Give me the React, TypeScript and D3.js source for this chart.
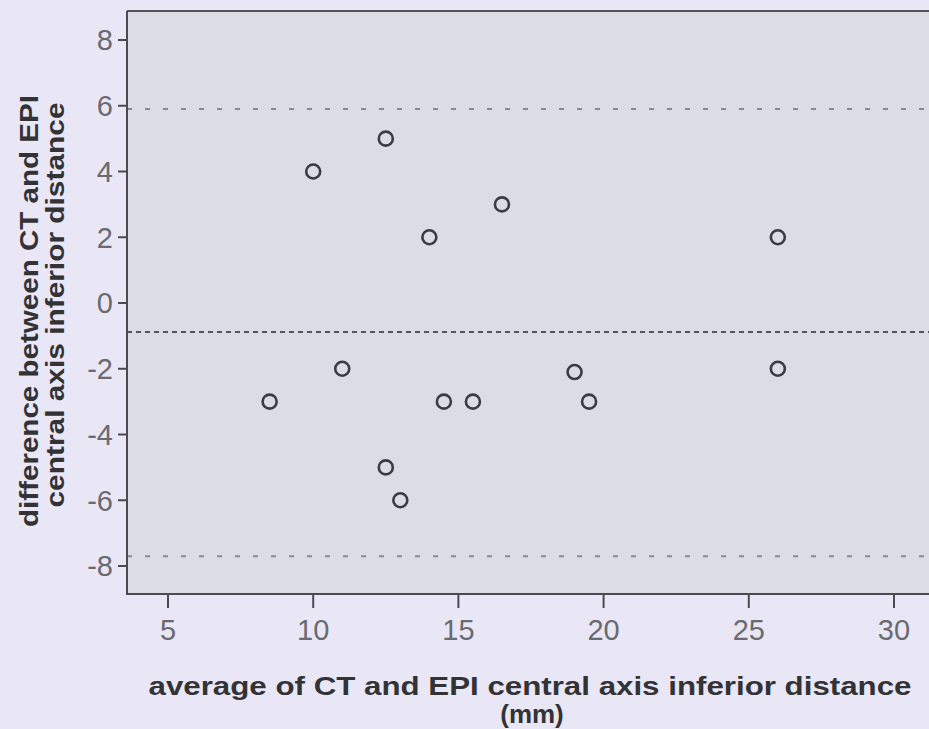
import React from "react";
import * as d3 from "d3";

const avgValues = [10, 12.5, 14, 16.5, 26, 26, 8.5, 11, 14.5, 15.5, 19, 19.5, 12.5, 13];
const diffValues = [4, 5, 2, 3, 2, -2, -3, -2, -3, -3, -2.1, -3, -5, -6];
const xTicks = [5, 10, 15, 20, 25, 30];
const yTicks = [8, 6, 4, 2, 0, -2, -4, -6, -8];
const meanDiff = -0.88;
const upperLimit = 5.9;
const lowerLimit = -7.7;
const xTitle = ["average of CT and EPI central axis inferior distance", "(mm)"];
const yTitle = ["difference between CT and EPI", "central axis inferior distance"];

export default function App() {
  const W = 929, H = 729;
  const left = 127, top = 11, bottom = 594, right = 940;
  const x = d3.scaleLinear().domain([5, 30]).range([168, 894]);
  const y = d3.scaleLinear().domain([-8, 8]).range([566, 40]);
  const points = avgValues.map((a, i) => ({ a, d: diffValues[i] }));
  const font = "'Liberation Sans', Arial, Helvetica, sans-serif";
  return (
    <svg width={W} height={H} style={{ position: "absolute", left: 0, top: 0 }} fontFamily={font}>
      <rect x={0} y={0} width={W} height={H} fill="#e9e7f5" />
      <rect x={left} y={top} width={right - left} height={bottom - top} fill="#dcdce5" />
      {/* reference lines */}
      <line x1={left} x2={right} y1={y(upperLimit)} y2={y(upperLimit)} stroke="#8a8890" strokeWidth={2} strokeDasharray="5 13" />
      <line x1={left} x2={right} y1={y(lowerLimit)} y2={y(lowerLimit)} stroke="#8a8890" strokeWidth={2} strokeDasharray="5 13" />
      <line x1={left} x2={right} y1={y(meanDiff)} y2={y(meanDiff)} stroke="#55545c" strokeWidth={2} strokeDasharray="5 4" />
      {/* frame */}
      <line x1={left} x2={right} y1={top} y2={top} stroke="#55545a" strokeWidth={2} />
      <line x1={left} x2={left} y1={top} y2={bottom} stroke="#4a4a50" strokeWidth={2} />
      <line x1={left - 1} x2={right} y1={bottom} y2={bottom} stroke="#4a4a50" strokeWidth={2} />
      {/* y axis */}
      {yTicks.map((t) => (
        <g key={"y" + t}>
          <line x1={left - 9} x2={left} y1={y(t)} y2={y(t)} stroke="#4a4a50" strokeWidth={2} />
          <text x={left - 14} y={y(t)} dy="0.36em" textAnchor="end" fontSize={29} fill="#6a6a70">
            {t}
          </text>
        </g>
      ))}
      {/* x axis */}
      {xTicks.map((t) => (
        <g key={"x" + t}>
          <line x1={x(t)} x2={x(t)} y1={bottom} y2={bottom + 14} stroke="#4a4a50" strokeWidth={2} />
          <text x={x(t)} y={640} textAnchor="middle" fontSize={29} fill="#6a6a70">
            {t}
          </text>
        </g>
      ))}
      {/* points */}
      {points.map((p, i) => (
        <circle key={i} cx={x(p.a)} cy={y(p.d)} r={7} fill="none" stroke="#3c3b40" strokeWidth={2.6} />
      ))}
      {/* titles */}
      <text x={530} y={695} textAnchor="middle" fontSize={26} fontWeight="bold" fill="#333336"
        textLength={763} lengthAdjust="spacingAndGlyphs">
        {xTitle[0]}
      </text>
      <text x={532} y={723} textAnchor="middle" fontSize={26} fontWeight="bold" fill="#333336">
        {xTitle[1]}
      </text>
      <g transform="translate(38,311) rotate(-90)">
        <text x={0} y={0} textAnchor="middle" fontSize={26} fontWeight="bold" fill="#333336"
          textLength={432} lengthAdjust="spacingAndGlyphs">
          {yTitle[0]}
        </text>
      </g>
      <g transform="translate(64,305) rotate(-90)">
        <text x={0} y={0} textAnchor="middle" fontSize={26} fontWeight="bold" fill="#333336"
          textLength={405} lengthAdjust="spacingAndGlyphs">
          {yTitle[1]}
        </text>
      </g>
    </svg>
  );
}
